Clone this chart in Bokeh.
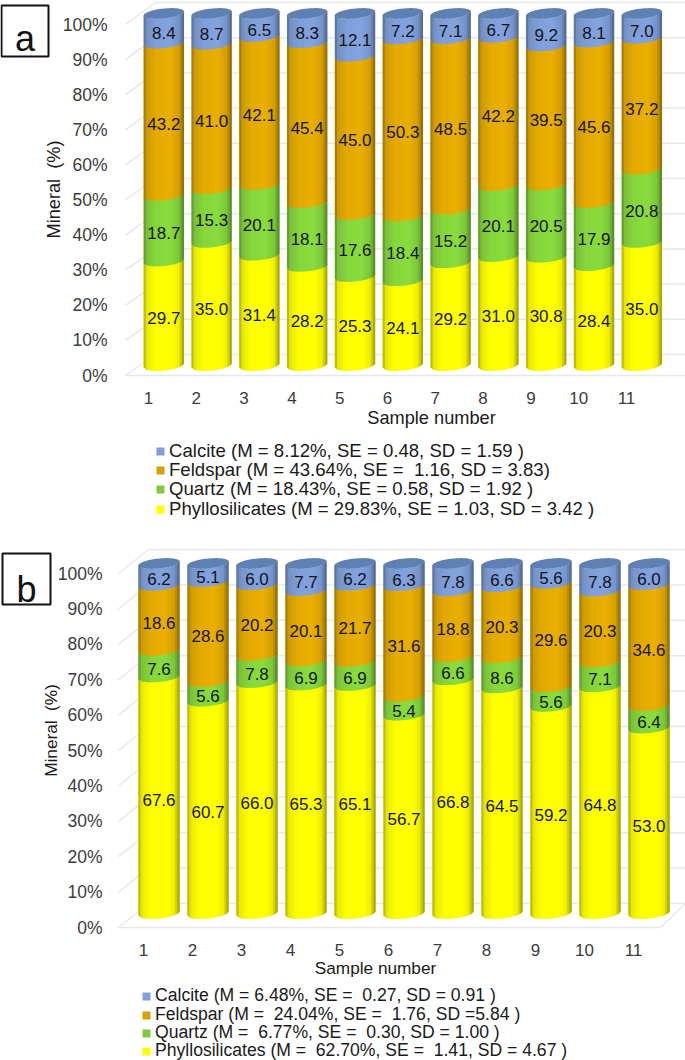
import numpy as np
from bokeh.core.properties import value
from bokeh.embed import file_html
from bokeh.layouts import column
from bokeh.models import (BoxAnnotation, FixedTicker, Label, Legend, LegendItem,
                          LinearAxis, PrintfTickFormatter, Range1d)
from bokeh.plotting import figure
from bokeh.resources import INLINE

samples = list(range(1, 12))
tick_pct = list(range(0, 101, 10))
series_names = ["Phyllosilicates", "Quartz", "Feldspar", "Calcite"]

a_phyllo = [29.7, 35.0, 31.4, 28.2, 25.3, 24.1, 29.2, 31.0, 30.8, 28.4, 35.0]
a_quartz = [18.7, 15.3, 20.1, 18.1, 17.6, 18.4, 15.2, 20.1, 20.5, 17.9, 20.8]
a_feldspar = [43.2, 41.0, 42.1, 45.4, 45.0, 50.3, 48.5, 42.2, 39.5, 45.6, 37.2]
a_calcite = [8.4, 8.7, 6.5, 8.3, 12.1, 7.2, 7.1, 6.7, 9.2, 8.1, 7.0]

b_phyllo = [67.6, 60.7, 66.0, 65.3, 65.1, 56.7, 66.8, 64.5, 59.2, 64.8, 53.0]
b_quartz = [7.6, 5.6, 7.8, 6.9, 6.9, 5.4, 6.6, 8.6, 5.6, 7.1, 6.4]
b_feldspar = [18.6, 28.6, 20.2, 20.1, 21.7, 31.6, 18.8, 20.3, 29.6, 20.3, 34.6]
b_calcite = [6.2, 5.1, 6.0, 7.7, 6.2, 6.3, 7.8, 6.6, 5.6, 7.8, 6.0]

a_legend = ["Calcite (M = 8.12%, SE = 0.48, SD = 1.59 )",
            "Feldspar (M = 43.64%, SE =  1.16, SD = 3.83)",
            "Quartz (M = 18.43%, SE = 0.58, SD = 1.92 )",
            "Phyllosilicates (M = 29.83%, SE = 1.03, SD = 3.42 )"]
b_legend = ["Calcite (M = 6.48%, SE =  0.27, SD = 0.91 )",
            "Feldspar (M =  24.04%, SE =  1.76, SD =5.84 )",
            "Quartz (M =  6.77%, SE =  0.30, SD = 1.00 )",
            "Phyllosilicates (M =  62.70%, SE =  1.41, SD = 4.67 )"]

FONT = "Liberation Sans"
BASE = {"Phyllosilicates": (255, 255, 0), "Quartz": (134, 214, 60),
        "Feldspar": (227, 170, 0), "Calcite": (127, 159, 217)}
SWATCH = {"Calcite": "#7f9fdc", "Feldspar": "#d8a000", "Quartz": "#80cb3c", "Phyllosilicates": "#ffff00"}
CAP = "#5f80b3"


def shade(rgb, t):
    m = np.interp(t, [-1, -0.82, -0.4, 0.3, 0.75, 1], [0.68, 0.92, 1.0, 1.03, 0.93, 0.6])
    return "#%02x%02x%02x" % tuple(int(min(255, c * m)) for c in rgb)


def panel(L, vals, legend_text, letter):
    W, H = 685, L["height"]
    left, fbot = L["left"], L["fbot"]
    sy = (L["y100"] - L["y0"]) / 100.0   # px per percent, negative
    sx = L["dx"]
    y_of = lambda py: (py - L["y0"]) / sy
    x_of = lambda px: 1 + (px - L["cx"]) / sx
    # the frame fills the canvas; the axes are fixed inside it
    p = figure(width=W, height=H, x_range=Range1d(x_of(0), x_of(W)), y_range=Range1d(y_of(H), y_of(0)),
               output_backend="svg", toolbar_location=None, x_axis_location=None, y_axis_location=None,
               min_border=0, outline_line_color=None)
    p.grid.visible = False
    p.background_fill_color = "white"

    # axes on their own scales (the 3D chart draws its labels offset from the bars)
    ax_sy = (L["ax100"] - L["ax0"]) / 100.0
    p.extra_y_ranges["pct"] = Range1d((H - L["ax0"]) / ax_sy, (0 - L["ax0"]) / ax_sy)
    p.extra_x_ranges["num"] = Range1d(1 + (0 - L["tick1"]) / sx, 1 + (W - L["tick1"]) / sx)
    ya = LinearAxis(y_range_name="pct", fixed_location=x_of(left), ticker=FixedTicker(ticks=tick_pct),
                    formatter=PrintfTickFormatter(format="%d%%"), axis_line_color=None,
                    major_tick_line_color=None, minor_tick_line_color=None,
                    major_label_standoff=L["ystand"], major_label_text_font=FONT,
                    major_label_text_font_size="17.5px", major_label_text_color="#3c3c3c")
    xa = LinearAxis(x_range_name="num", fixed_location=y_of(fbot), ticker=FixedTicker(ticks=samples),
                    axis_line_color=None, major_tick_line_color=None, minor_tick_line_color=None,
                    major_label_standoff=0, major_label_text_font=FONT,
                    major_label_text_font_size="17px", major_label_text_color="#3c3c3c")
    p.add_layout(ya, "left")
    p.add_layout(xa, "below")

    # wall grid, diagonals and floor
    wall_sy = (L["w100"] - L["w0"]) / 100.0
    wall_y = [y_of(L["w0"] + v * wall_sy) for v in tick_pct]
    ax_y = [y_of(L["ax0"] + v * ax_sy) for v in tick_pct]
    grid = L["grid"]
    p.segment([x_of(L["wx"])] * len(tick_pct), wall_y, [x_of(W)] * len(tick_pct), wall_y,
              line_color=grid, line_width=1.5)
    p.segment([x_of(left)] * len(tick_pct), ax_y, [x_of(L["wx"])] * len(tick_pct), wall_y,
              line_color=grid, line_width=1.5)
    p.segment([x_of(left)], [ax_y[0]], [x_of(L["floor_end"])], [ax_y[0]], line_color=grid, line_width=1.5)
    if L["floor_end"] < W:
        p.segment([x_of(L["floor_end"])], [ax_y[0]], [x_of(W)], [wall_y[0]], line_color=grid, line_width=1.5)

    # cylinders
    hw = L["bw"] / 2.0 / sx
    ell = L["ell"] / abs(sy)
    tilt = 2.0 / abs(sy)
    n = 18
    edges = np.linspace(-1, 1, n + 1)
    arc = lambda t: -ell * np.sqrt(np.clip(1 - t * t, 0, 1)) + tilt * t
    xs, ys, cols = [], [], []
    tx, ty, tt = [], [], []
    matrix = np.array([vals[k] for k in series_names], dtype=float)
    over = 1.2 / (L["bw"] / 2.0)
    for i, s in enumerate(samples):
        col = matrix[:, i]
        cum = np.concatenate([[0], np.cumsum(col) * 100.0 / col.sum()])
        for k, name in enumerate(series_names):
            for j in range(n):
                t0, t1 = edges[j], min(1.0, edges[j + 1] + over)
                x0 = s + t0 * hw
                x1 = s + t1 * hw
                lap = 0.5 / abs(sy) if k < 3 else 0
                xs.append([x0, x1, x1, x0])
                ys.append([cum[k] + arc(t0), cum[k] + arc(t1), cum[k + 1] + arc(t1) + lap, cum[k + 1] + arc(t0) + lap])
                cols.append(shade(BASE[name], (edges[j] + edges[j + 1]) / 2))
            tx.append(s)
            ty.append((cum[k] + cum[k + 1]) / 2 - ell)
            tt.append("%.1f" % col[k])
    p.patches(xs, ys, fill_color=cols, line_color=None)
    ang = np.linspace(0, 2 * np.pi, 50)
    cap_x = [list(s + hw * np.cos(ang)) for s in samples]
    cap_y = [list(100 + ell * np.sin(ang) + tilt * np.cos(ang)) for s in samples]
    p.patches(cap_x, cap_y, fill_color=CAP, line_color=None)
    p.text(tx, ty, text=tt, text_font=value(FONT), text_font_size="17px", text_align="center",
           text_baseline="middle", text_color="#141414")

    # legend: one block per row, since rows sit closer than Bokeh's own line pitch
    for name, txt, ly in zip(["Calcite", "Feldspar", "Quartz", "Phyllosilicates"], legend_text, L["lys"]):
        r = p.quad(left=[1], right=[1], top=[0], bottom=[0], fill_color=SWATCH[name], line_color=None)
        leg = Legend(items=[LegendItem(label=txt, renderers=[r])], location=(L["lx"], ly), border_line_color=None,
                     background_fill_alpha=0, padding=0, margin=0, spacing=0, glyph_width=10, glyph_height=10,
                     label_height=L["lh"], label_standoff=4, label_text_font=FONT, label_text_font_size=L["lfs"],
                     label_text_color="#1a1a1a", label_text_line_height=1.0)
        p.add_layout(leg, "center")

    # titles
    p.add_layout(Label(x=x_of(L["xt"]), y=y_of(L["xty"]), text="Sample number", text_font=FONT,
                       text_font_size=L["tfs"], text_align="center", text_baseline="middle", text_color="#1a1a1a"))
    p.add_layout(Label(x=x_of(L["yt"]), y=y_of(L["yty"]), text="Mineral\u00a0\u00a0(%)", text_font=FONT, angle=90,
                       angle_units="deg", text_font_size=L["tfs"], text_align="center", text_baseline="middle",
                       text_color="#1a1a1a"))
    # panel letter
    bx = L["box"]
    p.add_layout(BoxAnnotation(left=x_of(bx[0]), right=x_of(bx[1]), top=y_of(bx[2]), bottom=y_of(bx[3]),
                               fill_color="white", fill_alpha=1, line_color="#111111", line_alpha=1, line_width=2))
    p.add_layout(Label(x=x_of((bx[0] + bx[1]) / 2), y=y_of(L["letter_y"]), text=letter, text_font=FONT,
                       text_font_size="36px", text_align="center", text_baseline="alphabetic", text_color="#111111"))
    return p


pa = panel(dict(height=535, left=125, fbot=385, y0=365, y100=13, cx=163.3, dx=47.8, bw=40.5, ell=5,
                ax0=375, ax100=24, tick1=148, w0=354, w100=2, wx=155, floor_end=685, grid="#e6e6ee",
                ystand=12, lx=155, lys=[73, 54, 35, 15], lh=19, lfs="18.6px", tfs="18.2px",
                xt=431, xty=417, yt=53, yty=189, box=(1, 48, 5, 56), letter_y=38),
           {"Phyllosilicates": a_phyllo, "Quartz": a_quartz, "Feldspar": a_feldspar, "Calcite": a_calcite},
           a_legend, "a")
pb = panel(dict(height=525, left=118, fbot=402, y0=378, y100=28, cx=158.5, dx=49, bw=41.5, ell=5,
                ax0=392, ax100=38, tick1=143, w0=368, w100=14, wx=148, floor_end=660, grid="#e8e8e8",
                ystand=10, lx=141, lys=[54, 35, 17, -1], lh=18, lfs="17.6px", tfs="17.2px",
                xt=375, xty=432, yt=50, yty=195, box=(2, 50, 18, 69), letter_y=54),
           {"Phyllosilicates": b_phyllo, "Quartz": b_quartz, "Feldspar": b_feldspar, "Calcite": b_calcite},
           b_legend, "b")

page = column(pa, pb, spacing=0)
open("out.html", "w").write(file_html(page, INLINE))
